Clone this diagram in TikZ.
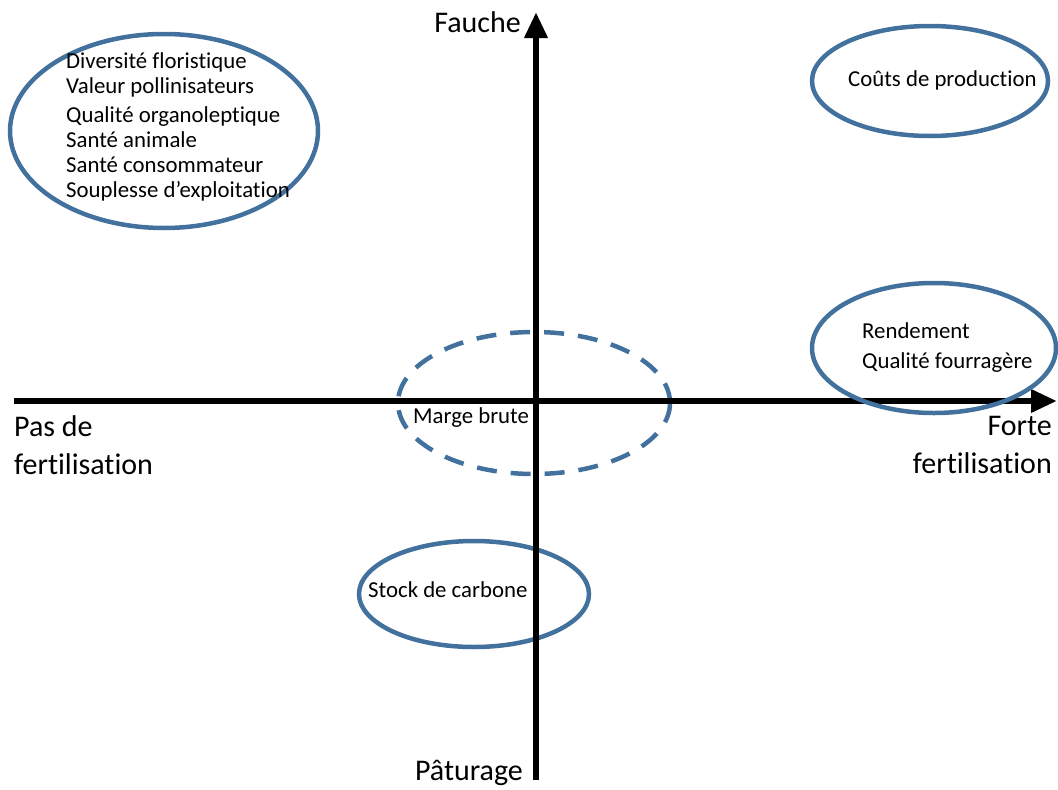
\documentclass[tikz,border=0pt]{standalone}
\usepackage{fontspec}
\setmainfont[Ligatures=NoCommon]{Carlito}
\usetikzlibrary{arrows.meta}
\definecolor{bleu}{RGB}{65,113,156}
\tikzset{
  axe/.style={line width=6.5pt, -{Triangle[length=26pt,width=22pt]}},
  zone/.style={draw=bleu, line width=4.5pt},
  petit/.style={font=\fontsize{22.8}{25}\selectfont, inner sep=0pt},
  grand/.style={font=\fontsize{30}{38}\selectfont, inner sep=0pt}
}
\begin{document}
\begin{tikzpicture}[x=1pt, y=-1pt]
		\useasboundingbox (0, 0) rectangle (1058, 790);
		\draw[zone] (164, 131) ellipse (154 and 97);
		\draw[zone] (930, 81) ellipse (118 and 55);
		\draw[zone, dashed, dash pattern=on 20pt off 14pt] (534, 403) ellipse (136 and 71);
		\draw[zone] (474, 594) ellipse (115 and 53);
		\coordinate (bas) at (536, 780);
		\coordinate (haut) at (536, 12);
		\coordinate (gauche) at (14, 401);
		\coordinate (droite) at (1057, 401);
		\draw[axe] (bas) -- (haut);
		\draw[axe] (gauche) -- (droite);
		\draw[zone] (934, 348) ellipse (122 and 65);
		\node[grand, anchor=base east] (fauche) at (521, 32) {Fauche};
		\node[grand, anchor=base east] (paturage) at (523, 780) {Pâturage};
		\node[grand, anchor=north west, align=left] (sansfert) at (14, 415) {Pas de\\fertilisation};
		\node[grand, anchor=north east, align=right] (fortefert) at (1052, 416) {Forte\\fertilisation};
		\node[petit, anchor=north west, align=left] (liste) at (66, 52) {Diversité floristique\\Valeur pollinisateurs\\[4pt]Qualité organoleptique\\Santé animale\\Santé consommateur\\Souplesse d’exploitation};
		\node[petit, anchor=base west] (couts) at (848, 86) {Coûts de production};
		\node[petit, anchor=north west, align=left] (rendement) at (862, 322) {Rendement\\[5pt]Qualité fourragère};
		\node[petit, anchor=base west] (marge) at (413, 423) {Marge brute};
		\node[petit, anchor=base west] (stock) at (368, 597) {Stock de carbone};
	\end{tikzpicture}
\end{document}
